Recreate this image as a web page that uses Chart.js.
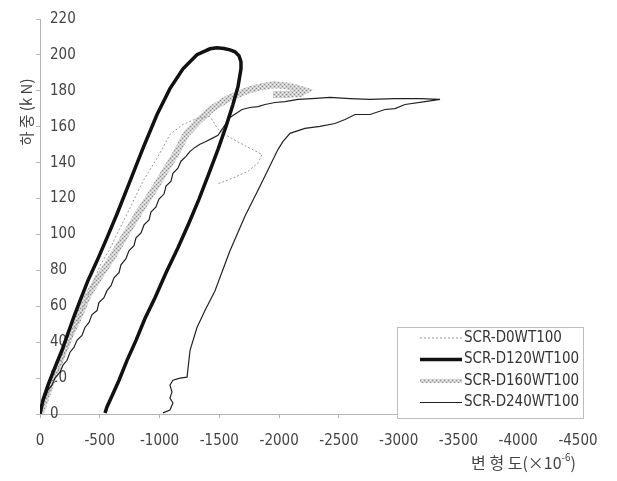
<!DOCTYPE html>
<html>
<head>
<meta charset="utf-8">
<script src="https://cdn.jsdelivr.net/npm/chart.js@4.4.0/dist/chart.umd.min.js"></script>
<style>
  body { margin: 0; background: #fff; }
  #graph { display: block; }
</style>
</head>
<body>
<canvas id="graph" width="617" height="481"></canvas>
<script>
// tick labels
const xTickValues = [0, -500, -1000, -1500, -2000, -2500, -3000, -3500, -4000, -4500];
const yTickValues = [0, 20, 40, 60, 80, 100, 120, 140, 160, 180, 200, 220];
const yTitle = '하 중 (k N)';
const xTitle = '변 형 도(×10';
const seriesNames = ['SCR-D0WT100', 'SCR-D120WT100', 'SCR-D160WT100', 'SCR-D240WT100'];

// SCR-D0WT100 (strain x1e-6, load kN)
const strainD0 = [0, -84, -167, -251, -335, -418, -502, -585, -644, -753, -861, -979, -1087, -1196, -1313, -1422,
  -1489, -1547, -1648, -1756, -1857, -1823, -1740, -1631, -1547, -1480];
const loadD0 = [0, 13.3, 27.2, 41, 54.9, 68.7, 82.6, 92, 100.3, 114.7, 129.7, 142.4, 155.7, 161.3, 164.6, 165.7,
  158.5, 155.7, 151.8, 148, 144.6, 139.7, 135.2, 131.9, 129.7, 128];

// SCR-D120WT100
const strainD120 = [0, -25, -67, -125, -184, -234, -284, -335, -401, -477, -560, -644, -753, -861, -979, -1087,
  -1196, -1313, -1422, -1480, -1539, -1589, -1631, -1664, -1681, -1681,
  -1656, -1614, -1556, -1489, -1414, -1330, -1246, -1154, -1054, -962, -878, -803, -728, -661, -602, -560, -544];
const loadD120 = [0, 7.8, 16.1, 26, 35.5, 44.9, 54.3, 63.2, 74.3, 85.3, 98.1, 111.4, 129.7, 148, 166.8, 181.2,
  192.3, 200.1, 203.4, 204, 203.6, 202.8, 201.7, 199.5, 196.2, 192.3,
  182.3, 172.4, 160.2, 147.4, 134.1, 119.7, 106.4, 92.6, 78.7, 64.8, 53.2, 41, 29.9, 18.8, 10, 3.9, 0.6];

// SCR-D160WT100
const strainD160 = [0, -42, -84, -134, -184, -251, -318, -401, -502, -611, -719, -836, -945, -1046, -1138, -1221,
  -1321, -1439, -1572, -1673, -1756, -1857, -1949, -2049, -2133, -2216, -2175, -2049, -1949];
const loadD160 = [0, 7.8, 16.1, 24.4, 32.7, 43.8, 53.2, 66, 77, 88.1, 100.3, 113.1, 124.1, 135.2, 145.2, 155.7,
  162.9, 170.1, 175.7, 178.5, 180.7, 182.3, 183.4, 182.9, 181.8, 180.1, 178.5, 177.9, 177.9];

// SCR-D240WT100
const strainD240 = [0, -17, -42, -67, -100, -125, -167, -192, -226, -251, -284, -309, -351, -376, -410, -435,
  -477, -493, -535, -560, -594, -619, -661, -677, -719, -744, -786, -803, -845, -870, -912, -928,
  -970, -995, -1037, -1054, -1096, -1112, -1154, -1179, -1221, -1255, -1296, -1338, -1388, -1439, -1489, -1522,
  -1556, -1589, -1639, -1690, -1756, -1823, -1882, -1966, -2049, -2158, -2275, -2426, -2593, -2760, -2969, -3178, -3346,
  -3220, -3053, -2969, -2886, -2760, -2635, -2551, -2467, -2342, -2216, -2091, -2033, -1991, -1840, -1715, -1589,
  -1464, -1380, -1313, -1255, -1230, -1171, -1112, -1087, -1104, -1087, -1112, -1087, -1029];
const loadD240 = [0, 5, 8.9, 13.3, 16.1, 20, 23.3, 27.2, 29.9, 34.4, 37.1, 41, 43.8, 48.2, 51, 55.4,
  57.6, 62.1, 64.8, 68.7, 71.5, 75.9, 78.7, 83.1, 86.5, 90.9, 93.7, 98.1, 100.9, 105.3, 108.1, 112.5,
  115.3, 119.7, 122.5, 126.9, 129.7, 134.1, 136.9, 140.8, 143.5, 146.3, 148.5, 150.2, 151.8, 153.5, 155.2, 158.5,
  161.8, 165.2, 167.4, 169.6, 170.7, 171.2, 172.4, 173.5, 174, 175.2, 175.7, 176.3, 175.7, 175.2, 175.7, 175.7, 175.2,
  174, 172.4, 170.1, 169.6, 166.8, 166.8, 164, 161.8, 160.2, 159.1, 156.3, 151.8, 147.4, 126.9, 110.3, 90.9,
  68.7, 57.6, 48.2, 35.5, 20.5, 20, 18.8, 16.1, 12.2, 8.9, 6.1, 2.2, 0.6];

const toPoints = (xs, ys) => xs.map((x, i) => ({x: x, y: ys[i]}));

// grey hatched band for D160
const makeBand = () => {
    const c = document.createElement('canvas');
    c.width = 4; c.height = 4;
    const g = c.getContext('2d');
    g.fillStyle = '#cfcfcf';
    g.fillRect(0, 0, 4, 4);
    g.fillStyle = '#8c8c8c';
    g.fillRect(0, 0, 1, 1); g.fillRect(2, 2, 1, 1);
    g.fillStyle = '#f2f2f2';
    g.fillRect(2, 0, 1, 1); g.fillRect(0, 2, 1, 1);
    return g.createPattern(c, 'repeat');
}

const band = makeBand();
const tickFont = {family: '"Liberation Sans Narrow", "DejaVu Sans Condensed", sans-serif', size: 15};

const data = {
    datasets: [
      { label: seriesNames[0], data: toPoints(strainD0, loadD0), borderColor: '#9a9a9a', borderWidth: 1,
        borderDash: [2, 2], order: 2 },
      { label: seriesNames[1], data: toPoints(strainD120, loadD120), borderColor: '#111', borderWidth: 3.5, order: 0 },
      { label: seriesNames[2], data: toPoints(strainD160, loadD160), borderColor: band, borderWidth: 7, order: 3 },
      { label: seriesNames[3], data: toPoints(strainD240, loadD240), borderColor: '#222', borderWidth: 1.2, order: 1 }
    ]
};

const extras = {
    id: 'extras',
    afterDraw(chart) {
        const ctx = chart.ctx;
        const area = chart.chartArea;
        ctx.save();
        // y title
        ctx.translate(area.left - 14, 112);
        ctx.rotate(-Math.PI / 2);
        ctx.font = '15px "Noto Sans CJK KR"';
        ctx.fillStyle = '#444';
        ctx.textAlign = 'center';
        ctx.textBaseline = 'middle';
        ctx.fillText(yTitle, 0, 0);
        ctx.restore();

        // x title, right aligned with superscript
        ctx.save();
        ctx.fillStyle = '#444';
        ctx.textBaseline = 'alphabetic';
        ctx.font = '16px "Noto Sans CJK KR"';
        const close = ')';
        const closeW = ctx.measureText(close).width;
        ctx.font = '10px "Noto Sans CJK KR"';
        const sup = '-6';
        const supW = ctx.measureText(sup).width;
        ctx.font = '16px "Noto Sans CJK KR"';
        const mainW = ctx.measureText(xTitle).width;
        let x = area.right - 2 - closeW - supW - mainW;
        const base = area.bottom + 55;
        ctx.fillText(xTitle, x, base);
        x += mainW;
        ctx.font = '10px "Noto Sans CJK KR"';
        ctx.fillText(sup, x, base - 8);
        x += supW;
        ctx.font = '16px "Noto Sans CJK KR"';
        ctx.fillText(close, x, base);
        ctx.restore();

        // legend box
        ctx.save();
        const bx = area.right - 181, by = area.bottom - 87, bw = 186, bh = 91;
        ctx.fillStyle = '#fff';
        ctx.fillRect(bx, by, bw, bh);
        ctx.strokeStyle = '#bdbdbd';
        ctx.lineWidth = 1;
        ctx.strokeRect(bx + 0.5, by + 0.5, bw, bh);
        ctx.font = '15px "Liberation Sans Narrow", "DejaVu Sans Condensed", sans-serif';
        ctx.textBaseline = 'middle';
        chart.data.datasets.forEach((ds, i) => {
            const y = by + 11 + i * 21.5;
            ctx.save();
            ctx.strokeStyle = ds.borderColor;
            ctx.lineWidth = ds.borderWidth === 7 ? 4 : ds.borderWidth;
            ctx.setLineDash(ds.borderDash || []);
            ctx.beginPath();
            ctx.moveTo(bx + 23, y);
            ctx.lineTo(bx + 65, y);
            ctx.stroke();
            ctx.restore();
            ctx.fillStyle = '#333';
            ctx.fillText(ds.label, bx + 67, y);
        });
        ctx.restore();
    }
};

const config = {
    type: 'scatter',
    data: data,
    options: {
        responsive: false,
        animation: false,
        showLine: true,
        elements: { point: { radius: 0 }, line: { tension: 0, fill: false } },
        layout: { padding: { left: 0, top: 17, right: 39, bottom: 0 } },
        plugins: { legend: { display: false }, tooltip: { enabled: false } },
        scales: {
            x: {
                type: 'linear', position: 'bottom', min: -4500, max: 0, reverse: true,
                border: { color: '#b5b5b5' },
                grid: { drawOnChartArea: false, tickLength: 4, color: '#b5b5b5' },
                ticks: { font: tickFont, color: '#444', padding: 14, maxRotation: 0, autoSkip: false,
                         callback: v => String(v) },
                afterBuildTicks: s => { s.ticks = xTickValues.map(v => ({value: v})); },
                afterFit: s => { s.height = 67; }
            },
            y: {
                min: 0, max: 220,
                border: { color: '#b5b5b5' },
                grid: { drawOnChartArea: false, tickLength: 4, color: '#b5b5b5' },
                ticks: { font: tickFont, color: '#444', mirror: true, padding: 10 },
                afterBuildTicks: s => { s.ticks = yTickValues.map(v => ({value: v})); },
                afterFit: s => { s.width = 40; }
            }
        }
    },
    plugins: [extras]
};

const graph = document.getElementById('graph');
new Chart(graph, config);
</script>
</body>
</html>
